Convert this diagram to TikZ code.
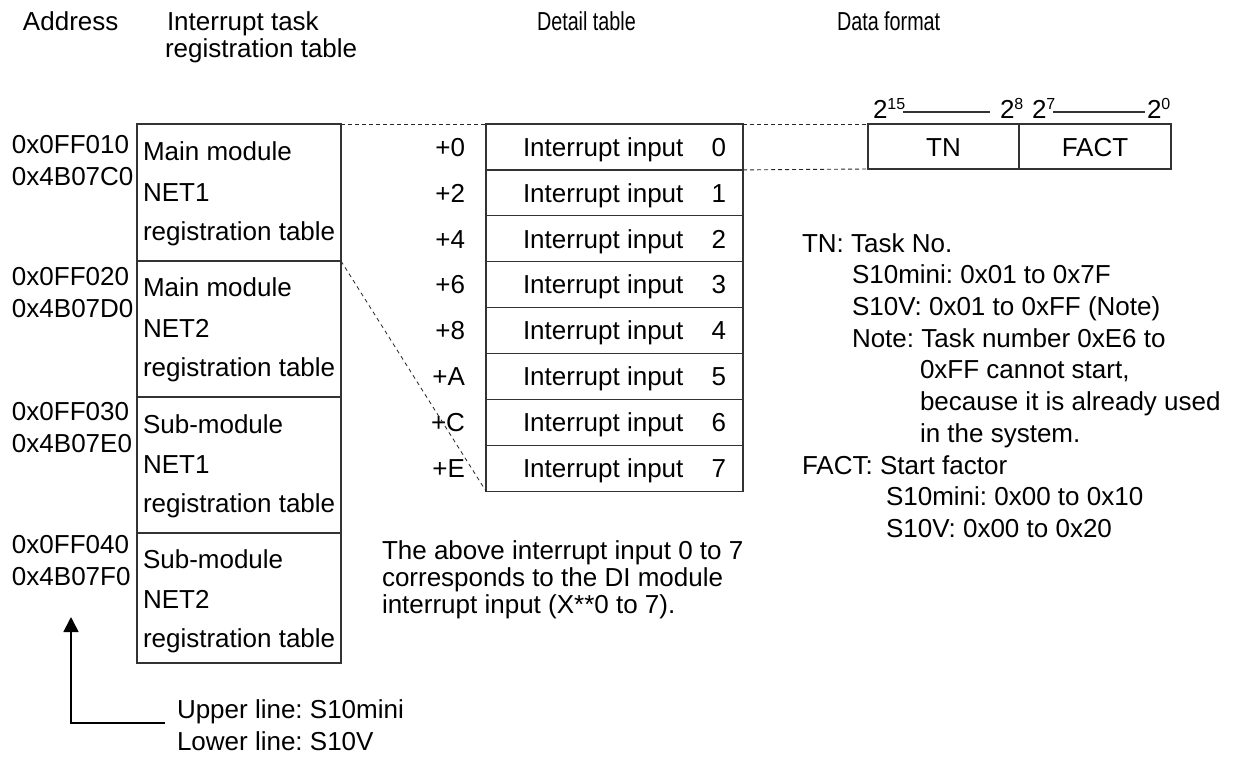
\documentclass[tikz,border=0pt]{standalone}
\usepackage{fontspec}
\setmainfont{Liberation Sans}
\usetikzlibrary{arrows.meta,calc}
\frenchspacing
\newcommand\supx[1]{\raisebox{8.5pt}{\fontsize{16}{16}\selectfont #1}}
\newcommand\narrowtxt[1]{\scalebox{0.76}[1]{#1}}
\begin{document}
\begin{tikzpicture}[x=1pt,y=-1pt,
  font=\fontsize{26}{31}\selectfont\frenchspacing,
  txt/.style={anchor=base west,inner sep=0pt,outer sep=0pt},
  txtr/.style={anchor=base east,inner sep=0pt,outer sep=0pt},
  txtc/.style={anchor=base,inner sep=0pt,outer sep=0pt},
  boxline/.style={draw=black!80,line width=1.3pt},
  cellbox/.style={boxline,anchor=north west,inner sep=0pt,outer sep=0pt},
  dashline/.style={draw=black!85,line width=0.9pt,dash pattern=on 4pt off 3pt},
  diagline/.style={draw=black!85,line width=0.8pt,dash pattern=on 4pt off 3.5pt},
  bitline/.style={draw=black!80,line width=1.3pt},
  arrowline/.style={draw=black,line width=1.8pt,-{Triangle[width=15pt,length=15pt]}}
]
\useasboundingbox (0,0) rectangle (1239,758);

% headers
\node[txt] (hAddr) at (23,30) {Address};
\node[txt] (hReg1) at (167,30) {Interrupt task};
\node[txt] (hReg2) at (165,57) {registration table};
\node[txt] (hDet) at (537,30) {\narrowtxt{Detail table}};
\node[txt] (hFmt) at (837,30) {\narrowtxt{Data format}};

% registration table
\node[cellbox,minimum width=204pt,minimum height=137pt] (r1) at (137,124) {};
\node[cellbox,minimum width=204pt,minimum height=136pt] (r2) at (137,261) {};
\node[cellbox,minimum width=204pt,minimum height=136pt] (r3) at (137,397) {};
\node[cellbox,minimum width=204pt,minimum height=130pt] (r4) at (137,533) {};

\node[txt] (r1a) at (143,160) {Main module};
\node[txt] (r1b) at (143,201) {NET1};
\node[txt] (r1c) at (143,240) {registration table};
\node[txt] (r2a) at (143,296) {Main module};
\node[txt] (r2b) at (143,337) {NET2};
\node[txt] (r2c) at (143,376) {registration table};
\node[txt] (r3a) at (143,433) {Sub-module};
\node[txt] (r3b) at (143,473) {NET1};
\node[txt] (r3c) at (143,512) {registration table};
\node[txt] (r4a) at (143,568) {Sub-module};
\node[txt] (r4b) at (143,608) {NET2};
\node[txt] (r4c) at (143,647) {registration table};

% addresses
\node[txt] (a1a) at (12,153) {0x0FF010};
\node[txt] (a1b) at (12,185) {0x4B07C0};
\node[txt] (a2a) at (12,285) {0x0FF020};
\node[txt] (a2b) at (12,317) {0x4B07D0};
\node[txt] (a3a) at (12,420) {0x0FF030};
\node[txt] (a3b) at (12,452) {0x4B07E0};
\node[txt] (a4a) at (12,553) {0x0FF040};
\node[txt] (a4b) at (12,585) {0x4B07F0};

% detail table
\foreach \i/\o in {0/+0,1/+2,2/+4,3/+6,4/+8,5/+A,6/+C,7/+E}{
  \node[cellbox,minimum width=257pt,minimum height=45.9pt] (d\i) at (486,{124+45.9*\i}) {};
  \node[txtr] (off\i) at (465,{124+45.9*\i+32.2}) {\o};
  \node[txt] (lab\i) at (523,{124+45.9*\i+32.2}) {Interrupt input};
  \node[txtr] (num\i) at (726,{124+45.9*\i+32.2}) {\i};
}

% data format
\node[cellbox,minimum width=151pt,minimum height=45pt] (tn) at (868,124) {};
\node[cellbox,minimum width=152pt,minimum height=45pt] (fact) at (1019,124) {};
\node[txtc] (tnt) at (943.5,156) {TN};
\node[txtc] (factt) at (1095,156) {FACT};

\node[txt] (b15) at (873,118) {2\supx{15}};
\node[txt] (b8) at (1000,118) {2\supx{8}};
\node[txt] (b7) at (1032,118) {2\supx{7}};
\node[txt] (b0) at (1147,118) {2\supx{0}};
\coordinate (l1a) at (903,112);
\coordinate (l1b) at (990,112);
\coordinate (l2a) at (1053,112);
\coordinate (l2b) at (1145,112);
\draw[bitline] (l1a) -- (l1b);
\draw[bitline] (l2a) -- (l2b);

% dashed connectors
\draw[dashline] (r1.north east) -- (d0.north west);
\draw[diagline] (r2.north east) -- (d7.south west);
\draw[dashline] (d0.north east) -- (tn.north west);
\draw[dashline] (d0.south east) -- (tn.south west);

% notes
\node[txt] (n1) at (802,252) {TN: Task No.};
\node[txt] (n2) at (852,283.7) {S10mini: 0x01 to 0x7F};
\node[txt] (n3) at (852,315.4) {S10V: 0x01 to 0xFF (Note)};
\node[txt] (n4) at (852,347) {Note: Task number 0xE6 to};
\node[txt] (n5) at (920,378.8) {0xFF cannot start,};
\node[txt] (n6) at (920,410.5) {because it is already used};
\node[txt] (n7) at (920,442) {in the system.};
\node[txt] (n8) at (802,474) {FACT: Start factor};
\node[txt] (n9) at (886,505.6) {S10mini: 0x00 to 0x10};
\node[txt] (n10) at (886,537) {S10V: 0x00 to 0x20};

\node[txt] (p1) at (382,559) {The above interrupt input 0 to 7};
\node[txt] (p2) at (382,586) {corresponds to the DI module};
\node[txt] (p3) at (382,613) {interrupt input (X**0 to 7).};

% legend arrow
\node[txt] (u1) at (177,718) {Upper line: S10mini};
\node[txt] (u2) at (177,750) {Lower line: S10V};
\coordinate (ac) at (165,723);
\coordinate (ak) at (71,723);
\coordinate (at) at (71,617);
\draw[arrowline] (ac) -- (ak) -- (at);
\end{tikzpicture}
\end{document}
